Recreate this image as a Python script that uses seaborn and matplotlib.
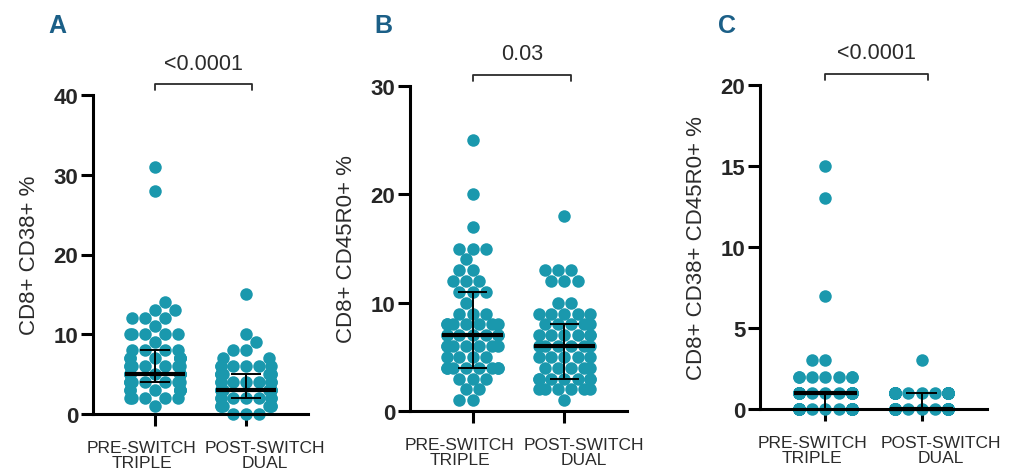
import warnings
import numpy as np
import pandas as pd
import matplotlib
matplotlib.use("Agg")
import matplotlib.pyplot as plt
import matplotlib.transforms as mtransforms
import seaborn as sns

warnings.filterwarnings("ignore")

# data
groups = ["PRE-SWITCH", "POST-SWITCH"]
tick_labels = ["PRE-SWITCH\nTRIPLE", "POST-SWITCH\nDUAL"]

cd38_pre = [31, 28, 14, 13, 13, 12, 12, 12, 11, 10, 10, 10, 10, 10, 9, 8, 8, 8, 8,
            7, 7, 7, 7, 7, 7, 7, 6, 6, 6, 6, 6, 6, 6, 5, 5, 5, 5, 5, 5, 5, 5, 5,
            4, 4, 4, 4, 4, 4, 4, 4, 3, 3, 3, 3, 3, 3, 3, 2, 2, 2, 2, 2, 1]
cd38_post = [15, 10, 9, 8, 8, 7, 7, 6, 6, 6, 6, 6, 6, 5, 5, 5, 5, 5, 5, 5,
             4, 4, 4, 4, 4, 4, 4, 3, 3, 3, 3, 3, 3, 3, 3, 2, 2, 2, 2, 2, 2, 2,
             1, 1, 1, 1, 1, 1, 0, 0, 0]

cd45_pre = [25, 20, 17, 15, 15, 15, 14, 13, 13, 12, 12, 12, 11, 11, 11, 10, 9, 9, 9,
            8, 8, 8, 8, 8, 8, 8, 7, 7, 7, 7, 7, 7, 7, 6, 6, 6, 6, 6, 6, 6,
            5, 5, 5, 5, 4, 4, 4, 4, 4, 4, 4, 4, 3, 3, 3, 2, 2, 1, 1]
cd45_post = [18, 13, 13, 13, 12, 12, 12, 10, 10, 9, 9, 9, 9, 9, 8, 8, 8, 8, 8,
             7, 7, 7, 7, 7, 7, 6, 6, 6, 6, 6, 6, 5, 5, 5, 5, 5, 4, 4, 4, 4, 4,
             3, 3, 3, 3, 3, 3, 3, 2, 2, 2, 2, 2, 2, 1]

both_pre = [15, 13, 7, 3, 3, 2, 2, 2, 2, 2, 2, 2,
            1, 1, 1, 1, 1, 1, 1, 1, 1, 1, 1, 1, 1, 1, 1, 1, 1, 1, 1, 1, 1, 1,
            0, 0, 0, 0, 0, 0, 0, 0, 0, 0, 0, 0, 0, 0, 0, 0, 0, 0, 0, 0, 0, 0, 0, 0, 0]
both_post = [3, 1, 1, 1, 1, 1, 1, 1, 1, 1, 1, 1, 1, 1, 1, 1, 1, 1, 1, 1, 1, 1, 1, 1, 1, 1,
             0, 0, 0, 0, 0, 0, 0, 0, 0, 0, 0, 0, 0, 0, 0, 0, 0, 0, 0, 0, 0, 0, 0, 0, 0, 0, 0, 0, 0, 0]

# median and interquartile bars as drawn
medians = [[5, 3], [7, 6], [1, 0]]
q1s = [[4, 2], [4, 3], [0, 0]]
q3s = [[8, 5], [11, 8], [1, 1]]

p_values = ["<0.0001", "0.03", "<0.0001"]
y_labels = ["CD8+ CD38+ %", "CD8+ CD45R0+ %", "CD8+ CD38+ CD45R0+ %"]
y_ticks = [[0, 10, 20, 30, 40], [0, 10, 20, 30], [0, 5, 10, 15, 20]]
panel_letters = ["A", "B", "C"]

series = [(cd38_pre, cd38_post), (cd45_pre, cd45_post), (both_pre, both_post)]

sns.set_style("ticks")
plt.rcParams["font.family"] = ["Liberation Sans", "DejaVu Sans"]

dot_color = "#1a98ad"
letter_color = "#1b5f87"
text_gray = "#2b2b2b"

W, H = 1034, 477
fig = plt.figure(figsize=(W / 100, H / 100), dpi=100)

# axes boxes in pixels: left, right, y of zero line, y of top
boxes = [(93, 308, 415, 96), (410, 627, 412, 87), (760, 987, 410, 86)]
letter_pos = [(57, 26), (383, 26), (727, 26)]

# swarmplot packs within 0.8 x native width; an empty (NaN) row at this x
# shrinks the native width so the swarm stays ~0.55 wide like the original
swarm_spacer = -0.55 / 0.8

for i, (pre, post) in enumerate(series):
    l, r, y0, y1 = boxes[i]
    ax = fig.add_axes([l / W, (H - y0) / H, (r - l) / W, (y0 - y1) / H])
    df = pd.DataFrame({
        "pos": [0] * len(pre) + [1] * len(post) + [swarm_spacer],
        "value": pre + post + [np.nan],
    })
    sns.swarmplot(data=df, x="pos", y="value", native_scale=True, color=dot_color,
                  size=9, linewidth=0, ax=ax, zorder=2)
    for c in ax.collections:
        c.set_clip_on(False)

    # median + IQR bars
    xs = np.arange(2)
    ax.hlines(medians[i], xs - 0.33, xs + 0.33, color="black", lw=3, zorder=4,
              clip_on=False)
    ax.vlines(xs, q1s[i], q3s[i], color="black", lw=1.4, zorder=4, clip_on=False)
    ax.hlines(q1s[i], xs - 0.16, xs + 0.16, color="black", lw=1.4, zorder=4,
              clip_on=False)
    ax.hlines(q3s[i], xs - 0.16, xs + 0.16, color="black", lw=1.4, zorder=4,
              clip_on=False)

    ax.set_xlim(-0.68, 1.68)
    ax.set_ylim(y_ticks[i][0], y_ticks[i][-1])
    ax.set_yticks(y_ticks[i])
    ax.set_xticks(xs)
    ax.set_xticklabels(tick_labels, fontsize=12.5, color=text_gray, linespacing=1.05)
    for lab in ax.get_yticklabels():
        lab.set_fontweight("bold")
        lab.set_fontsize(16)
    ax.set_xlabel("")
    ax.set_ylabel(y_labels[i], fontsize=16, color=text_gray)
    ax.yaxis.set_label_coords(-53 / (r - l), 0.5)

    sns.despine(ax=ax)
    for s in ["left", "bottom"]:
        ax.spines[s].set_linewidth(2.2)
        ax.spines[s].set_color("black")
    ax.tick_params(axis="both", width=2.2, length=8.5, color="black")
    ax.tick_params(axis="y", pad=2)
    ax.tick_params(axis="x", pad=10)

    # the two category labels sit pushed apart, as in the original
    shifts = [-13, 19]
    for lab, dx in zip(ax.get_xticklabels(), shifts):
        lab.set_transform(lab.get_transform() +
                          mtransforms.ScaledTranslation(dx / 100, 0, fig.dpi_scale_trans))

    # significance bracket
    trans = ax.get_xaxis_transform()
    bx = [0, 0, 1.07, 1.07]
    by = [1.015, 1.035, 1.035, 1.015]
    ax.plot(bx, by, color=text_gray, lw=1.3, transform=trans, clip_on=False)
    ax.text(0.535, 1.10, p_values[i], transform=trans, ha="center", va="center",
            fontsize=15.5, color=text_gray)

    lx, ly = letter_pos[i]
    fig.text(lx / W, 1 - ly / H, panel_letters[i], ha="center", va="center",
             fontsize=18, fontweight="bold", color=letter_color)

fig.savefig("out.png", dpi=100)
